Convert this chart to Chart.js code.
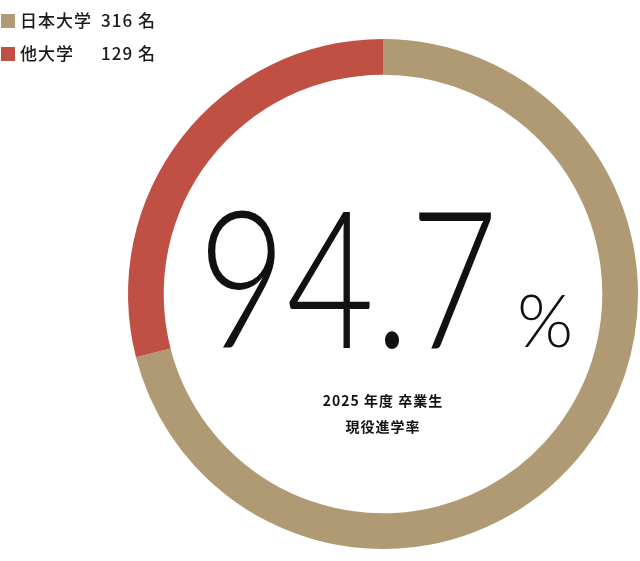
<!DOCTYPE html>
<html lang="ja">
<head>
<meta charset="utf-8">
<script src="https://cdn.jsdelivr.net/npm/chart.js@4.4.1/dist/chart.umd.min.js"></script>
<style>
  html, body { margin: 0; padding: 0; background: #fff; }
  #wrap { position: relative; width: 640px; height: 561px; }
</style>
</head>
<body>
<div id="wrap"><canvas id="myDoughnut"></canvas></div>
<script>
// ------------------ Dữ liệu -------------------
var labels = ['日本大学', '他大学'];
var counts = [316, 129];
var colors = ['#af9a73', '#c05044'];
var rateText = '94.7';
var subLines = ['2025 年度 卒業生', '現役進学率'];

var jpFont = '"Noto Sans CJK JP", "Noto Sans", sans-serif';

// Plugin vẽ legend + chữ ở giữa
var textPlugin = {
  id: 'textPlugin',
  afterDraw: function (chart) {
    var ctx = chart.ctx;
    ctx.save();
    // legend
    ctx.letterSpacing = '1px';
    for (var i = 0; i < labels.length; i++) {
      var y = 21 + i * 33;
      ctx.fillStyle = colors[i];
      ctx.fillRect(1, y - 7, 14, 14);
      ctx.fillStyle = '#1a1a1a';
      ctx.font = '500 17px ' + jpFont;
      ctx.textBaseline = 'middle';
      ctx.textAlign = 'left';
      ctx.fillText(labels[i], 20, y);
      ctx.fillText(counts[i] + ' 名', 101, y);
    }
    ctx.letterSpacing = '0px';
    // giữa
    var cx = chart.getDatasetMeta(0).data[0].x;
    ctx.fillStyle = '#111';
    ctx.textBaseline = 'alphabetic';
    ctx.textAlign = 'left';
    ctx.font = '300 192px Lato, "Open Sans", sans-serif';
    ctx.fillText(rateText, 198, 348, 300);
    ctx.font = '300 72px Lato, "Open Sans", sans-serif';
    ctx.fillText('%', 517, 347, 58);
    ctx.textAlign = 'center';
    ctx.textBaseline = 'middle';
    ctx.letterSpacing = '1px';
    ctx.font = '600 14px ' + jpFont;
    ctx.fillText(subLines[0], cx, 401);
    ctx.fillText(subLines[1], cx, 427);
    ctx.restore();
  }
};

var ctx = document.getElementById('myDoughnut').getContext('2d');
var myDoughnut = new Chart(ctx, {
  type: 'doughnut',
  data: {
    labels: labels,
    datasets: [{
      data: counts,
      backgroundColor: colors,
      borderWidth: 0
    }]
  },
  options: {
    responsive: true,
    maintainAspectRatio: false,
    animation: false,
    cutout: '86%',
    layout: {
      padding: { left: 128, right: 2, top: 39, bottom: 12 }
    },
    plugins: {
      legend: { display: false },
      tooltip: { enabled: false }
    }
  },
  plugins: [textPlugin]
});
</script>
</body>
</html>
